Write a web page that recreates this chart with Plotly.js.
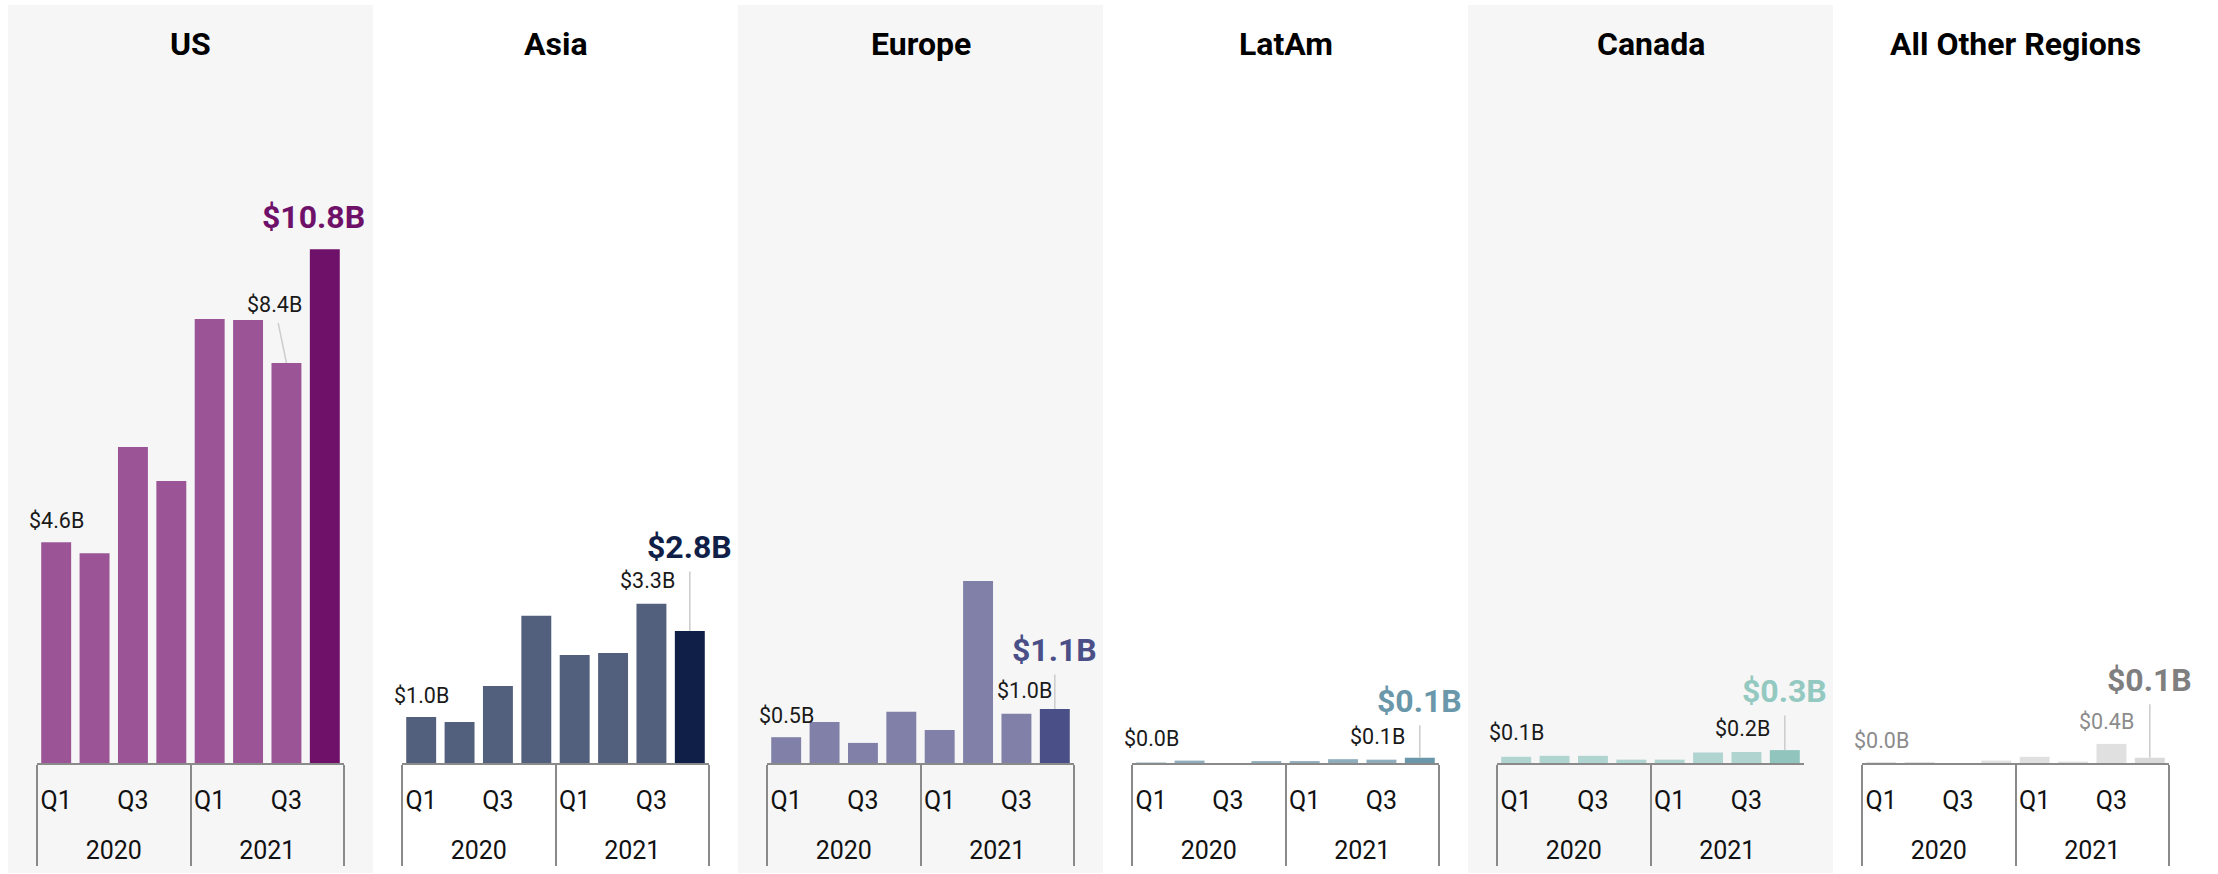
<!DOCTYPE html>
<html>
<head>
<meta charset="utf-8">
<script src="https://cdn.plot.ly/plotly-3.0.1.min.js"></script>
<style>
html,body{margin:0;padding:0;background:#ffffff;}
#chart{width:2218px;height:874px;}
</style>
</head>
<body>
<div id="chart"></div>
<script>
// ---------------- data ----------------
const regions = ["US", "Asia", "Europe", "LatAm", "Canada", "All Other Regions"];
const years = ["2020", "2020", "2020", "2020", "2021", "2021", "2021", "2021"];
const quarters = ["Q1", "Q2", "Q3", "Q4", "Q1", "Q2", "Q3", "Q4"];
// tick labels shown under the bars (Q2 / Q4 are left blank)
const quarterTickLabels = ["Q1", "\u00a0", "Q3", "\u00a0\u00a0", "Q1", "\u00a0", "Q3", "\u00a0\u00a0"];

// funding in $B per quarter
const usValues     = [4.62, 4.39, 6.61, 5.90, 9.29, 9.27, 8.37, 10.75];
const asiaValues   = [0.96, 0.86, 1.61, 3.08, 2.26, 2.30, 3.33, 2.76];
const europeValues = [0.54, 0.86, 0.42, 1.07, 0.69, 3.81, 1.03, 1.13];
const latamValues  = [0.01, 0.05, 0.00, 0.04, 0.04, 0.08, 0.07, 0.11];
const canadaValues = [0.13, 0.15, 0.15, 0.07, 0.07, 0.22, 0.23, 0.27];
const otherValues  = [0.02, 0.02, 0.00, 0.05, 0.13, 0.03, 0.40, 0.11];

const seriesList = [usValues, asiaValues, europeValues, latamValues, canadaValues, otherValues];

// ---------------- styles ----------------
const W = 2218, H = 874;
const PANEL_W = 365, PANEL_X0 = 8, AXIS_INSET = 29;
const BASE_Y = 763;           // px from top of the x axis line
const PX_PER_B = 47.8;

const styles = [
  {bar: "#9b5597", last: "#6f1169", small: "#1a1a1a", big: "#6f1169", bg: true,
   s1: {ax: 0, ay: -22, line: false}, s7: {ax: -12, ay: -58, line: true}, b: {ax: -11, ay: -32, line: false}},
  {bar: "#52607e", last: "#0f1f48", small: "#1a1a1a", big: "#0f1f48", bg: false,
   s1: {ax: 0, ay: -22, line: false}, s7: {ax: -4, ay: -23, line: false}, b: {ax: 0, ay: -84, line: true}},
  {bar: "#8080a8", last: "#4b4f87", small: "#1a1a1a", big: "#4b4f87", bg: true,
   s1: {ax: 0, ay: -22, line: false}, s7: {ax: 8, ay: -23, line: false}, b: {ax: 0, ay: -59, line: true}},
  {bar: "#8fadbb", last: "#6a97a9", small: "#1a1a1a", big: "#6a97a9", bg: false,
   s1: {ax: 0, ay: -24, line: false}, s7: {ax: -4, ay: -23, line: false}, b: {ax: 0, ay: -57, line: true}},
  {bar: "#b0d4cf", last: "#90c4bd", small: "#1a1a1a", big: "#94c9c1", bg: true,
   s1: {ax: 0, ay: -24, line: false}, s7: {ax: -4, ay: -24, line: false}, b: {ax: 0, ay: -59, line: true}},
  {bar: "#e0e0e0", last: "#dadada", small: "#8c8c8c", big: "#7f7f7f", bg: false,
   s1: {ax: 0, ay: -22, line: false}, s7: {ax: -5, ay: -22, line: false}, b: {ax: 0, ay: -78, line: true}}
];

const FONT = "Roboto, 'Noto Sans', sans-serif";
const fmt = v => "$" + v.toFixed(1) + "B";
// year labels are pushed one line down so they sit below the quarter row
const yearAxisLabels = years.map(y => "\u00a0<br>" + y);

const traces = [];
const annotations = [];
const shapes = [];
const layout = {
  width: W, height: H,
  margin: {l: 0, r: 0, t: 0, b: 0, pad: 0},
  paper_bgcolor: "#ffffff",
  plot_bgcolor: "rgba(0,0,0,0)",
  showlegend: false,
  bargap: 0.22,
  font: {family: FONT, color: "#111111"},
  yaxis: {
    domain: [(H - BASE_Y) / H, 1],
    range: [0, BASE_Y / PX_PER_B],
    visible: false, fixedrange: true
  }
};

regions.forEach((name, k) => {
  const st = styles[k];
  const vals = seriesList[k];
  const xId = k === 0 ? "x" : "x" + (k + 1);
  const axKey = k === 0 ? "xaxis" : "xaxis" + (k + 1);
  const panelLeft = PANEL_X0 + PANEL_W * k;

  traces.push({
    type: "bar",
    x: [yearAxisLabels, quarterTickLabels],
    y: vals,
    xaxis: xId, yaxis: "y",
    marker: {color: vals.map((v, i) => i === vals.length - 1 ? st.last : st.bar), line: {width: 0}},
    hovertemplate: name + " " + "%{y:.2f}B<extra></extra>"
  });

  layout[axKey] = {
    type: "multicategory",
    domain: [(panelLeft + AXIS_INSET) / W, (panelLeft + PANEL_W - AXIS_INSET) / W],
    range: [-0.5, vals.length - 0.5],
    autorange: false,
    anchor: "y",
    showline: true, linecolor: "#8a8a8a", linewidth: 2,
    showdividers: true, dividercolor: "#8a8a8a", dividerwidth: 2,
    ticks: "", tickmode: "linear", tick0: 0, dtick: 1, tickangle: 0,
    ticklabelstandoff: 14,
    tickfont: {family: FONT, size: 25, color: "#111111"},
    showgrid: false, zeroline: false, fixedrange: true, automargin: false
  };

  if (st.bg) {
    shapes.push({
      type: "rect", xref: "paper", yref: "paper", layer: "below",
      x0: panelLeft / W, x1: (panelLeft + PANEL_W) / W,
      y0: 1 / H, y1: (H - 5) / H,
      fillcolor: "#f6f6f6", line: {width: 0}
    });
  }

  // panel title
  annotations.push({
    xref: "paper", yref: "paper",
    x: (panelLeft + PANEL_W / 2) / W, y: 1 - 44 / H,
    xanchor: "center", yanchor: "middle",
    text: name, showarrow: false,
    font: {family: FONT, size: 32, weight: 700, color: "#000000"}
  });

  const addLabel = (i, cfg, big) => {
    annotations.push({
      xref: xId, yref: "y",
      x: i, y: vals[i],
      text: fmt(vals[i]),
      showarrow: true, arrowhead: 0, arrowwidth: 1.5,
      arrowcolor: cfg.line ? "#cccccc" : "rgba(0,0,0,0)",
      ax: cfg.ax, ay: cfg.ay,
      startstandoff: cfg.line ? 4 : 0,
      font: big ? {family: FONT, size: 32, weight: 700, color: st.big}
                : {family: FONT, size: 21.5, color: st.small}
    });
  };
  addLabel(0, st.s1, false);
  addLabel(6, st.s7, false);
  addLabel(vals.length - 1, st.b, true);
});

layout.annotations = annotations;
layout.shapes = shapes;

Plotly.newPlot("chart", traces, layout, {displayModeBar: false, staticPlot: true});
</script>
</body>
</html>
